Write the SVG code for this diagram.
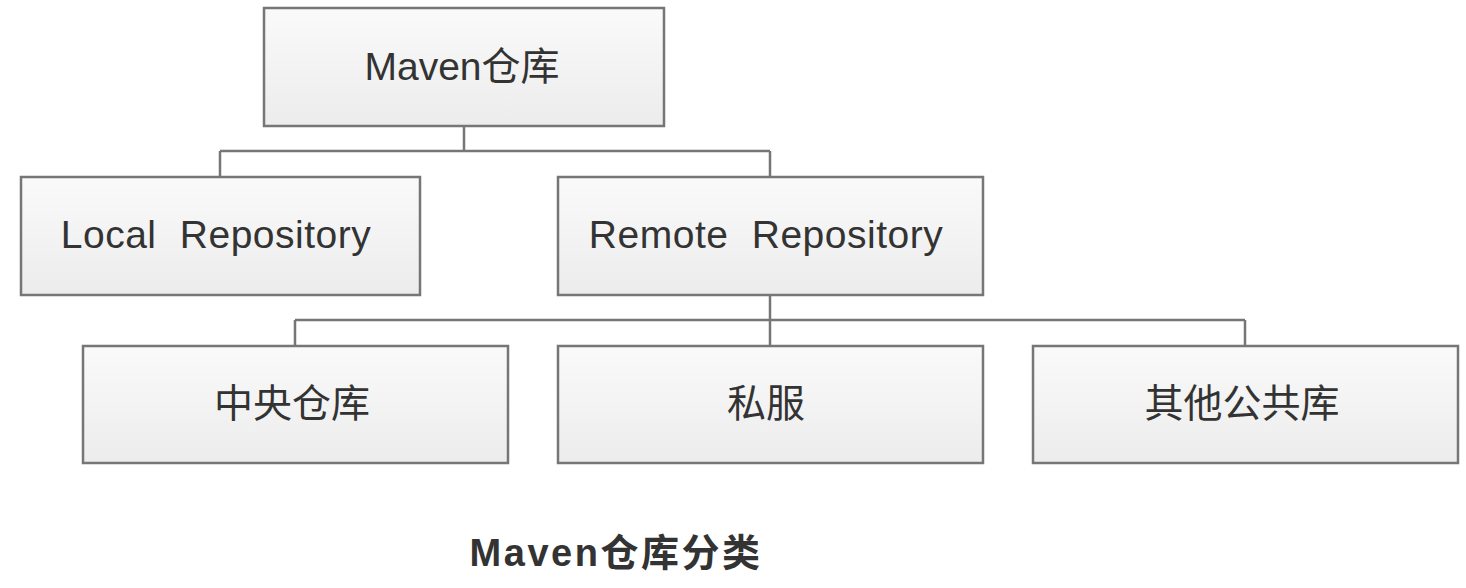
<svg xmlns="http://www.w3.org/2000/svg" width="1466" height="588" viewBox="0 0 1466 588">
<defs>
<linearGradient id="g" x1="0" y1="0" x2="0" y2="1">
<stop offset="0" stop-color="#fafafa"/>
<stop offset="1" stop-color="#ececec"/>
</linearGradient>
</defs>
<style>
.box{fill:url(#g);stroke:#767676;stroke-width:2.5}
.t{font-family:"Liberation Sans","Noto Sans CJK SC",sans-serif;font-size:39px;fill:#333;text-anchor:middle;dominant-baseline:central}
.w{word-spacing:12px;letter-spacing:0.5px}
.c{fill:none;stroke:#767676;stroke-width:2.5}
.cap{font-family:"Liberation Sans","Noto Sans CJK SC",sans-serif;font-size:38px;font-weight:bold;fill:#333;text-anchor:middle;letter-spacing:2.5px}
</style>
<rect width="1466" height="588" fill="#fff"/>
<g id="connectors">
<path class="c" d="M464 126V151M220 151H770M220 151V176M770 151V176"/>
<path class="c" d="M770 295V320M295 320H1245M295 320V345M770 320V345M1245 320V345"/>
</g>
<g id="maven"><rect class="box" x="264" y="8" width="400" height="118"/><text class="t" x="462" y="66">Maven仓库</text></g>
<g id="local"><rect class="box" x="21" y="177" width="399" height="118"/><text class="t w" x="216" y="234">Local Repository</text></g>
<g id="remote"><rect class="box" x="558" y="177" width="425" height="118"/><text class="t w" x="766" y="234">Remote Repository</text></g>
<g id="central"><rect class="box" x="83" y="346" width="425" height="117"/><text class="t" x="292" y="403">中央仓库</text></g>
<g id="private"><rect class="box" x="558" y="346" width="425" height="117"/><text class="t" x="766" y="403">私服</text></g>
<g id="other"><rect class="box" x="1033" y="346" width="425" height="117"/><text class="t" x="1242" y="403">其他公共库</text></g>
<text class="cap" x="616" y="566">Maven仓库分类</text>
</svg>
